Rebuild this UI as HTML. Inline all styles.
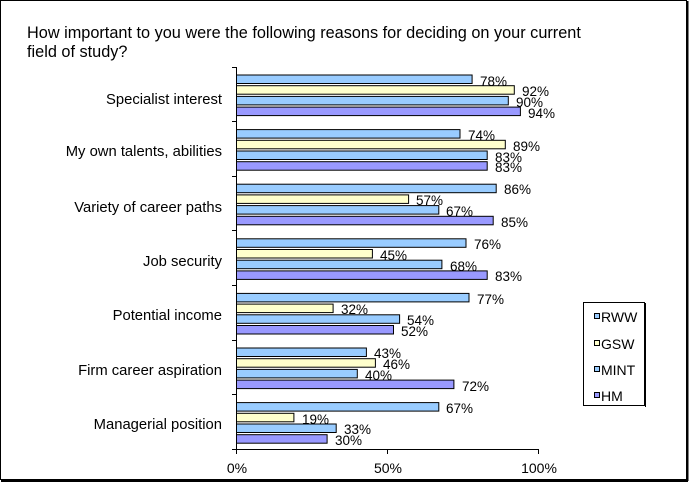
<!DOCTYPE html>
<html><head><meta charset="utf-8"><style>
html,body{margin:0;padding:0;background:#fff}
svg{display:block}
text{font-family:"Liberation Sans",Arial,sans-serif;fill:#000}
</style></head><body>
<svg width="689" height="483" viewBox="0 0 689 483" xmlns="http://www.w3.org/2000/svg">
<rect x="0.5" y="0.5" width="686" height="479" fill="#fff" stroke="#000" stroke-width="1"/>
<line x1="687.5" y1="1" x2="687.5" y2="481" stroke="#000" stroke-width="2"/>
<line x1="1" y1="481" x2="688" y2="481" stroke="#000" stroke-width="2"/>
<text x="27" y="38" font-size="16.3">How important to you were the following reasons for deciding on your current</text>
<text x="27" y="57" font-size="16.3">field of study?</text>
<g font-size="14.8" text-anchor="end">
<text x="222" y="104">Specialist interest</text>
<text x="222" y="156">My own talents, abilities</text>
<text x="222" y="212">Variety of career paths</text>
<text x="222" y="266">Job security</text>
<text x="222" y="320">Potential income</text>
<text x="222" y="375">Firm career  aspiration</text>
<text x="222" y="429">Managerial  position</text>
</g>
<g stroke="#000" stroke-width="1">
<line x1="236.5" y1="67" x2="236.5" y2="449"/>
<line x1="236" y1="449.5" x2="538" y2="449.5"/>
<line x1="232" y1="67.5" x2="236" y2="67.5"/>
<line x1="232" y1="121.5" x2="236" y2="121.5"/>
<line x1="232" y1="176.5" x2="236" y2="176.5"/>
<line x1="232" y1="230.5" x2="236" y2="230.5"/>
<line x1="232" y1="285.5" x2="236" y2="285.5"/>
<line x1="232" y1="340.5" x2="236" y2="340.5"/>
<line x1="232" y1="394.5" x2="236" y2="394.5"/>
<line x1="232" y1="449.5" x2="236" y2="449.5"/>
<line x1="236.5" y1="449" x2="236.5" y2="454"/>
<line x1="387.5" y1="449" x2="387.5" y2="454"/>
<line x1="538.5" y1="449" x2="538.5" y2="454"/>
</g>
<g font-size="14" text-anchor="middle">
<text x="237" y="473">0%</text>
<text x="388" y="473">50%</text>
<text x="539" y="473">100%</text>
</g>
<g stroke="#000" stroke-width="1">
<rect x="236.5" y="75" width="235.6" height="8.5" fill="#99ccff"/>
<rect x="236.5" y="85.7" width="277.8" height="8.5" fill="#ffffcc"/>
<rect x="236.5" y="96.4" width="271.8" height="8.5" fill="#99ccff"/>
<rect x="236.5" y="107.1" width="283.9" height="8.5" fill="#9999ff"/>

<rect x="236.5" y="129.6" width="223.5" height="8.5" fill="#99ccff"/>
<rect x="236.5" y="140.3" width="268.8" height="8.5" fill="#ffffcc"/>
<rect x="236.5" y="151" width="250.7" height="8.5" fill="#99ccff"/>
<rect x="236.5" y="161.7" width="250.7" height="8.5" fill="#9999ff"/>

<rect x="236.5" y="184.2" width="259.7" height="8.5" fill="#99ccff"/>
<rect x="236.5" y="194.9" width="172.1" height="8.5" fill="#ffffcc"/>
<rect x="236.5" y="205.6" width="202.3" height="8.5" fill="#99ccff"/>
<rect x="236.5" y="216.3" width="256.7" height="8.5" fill="#9999ff"/>

<rect x="236.5" y="238.8" width="229.5" height="8.5" fill="#99ccff"/>
<rect x="236.5" y="249.5" width="135.9" height="8.5" fill="#ffffcc"/>
<rect x="236.5" y="260.2" width="205.4" height="8.5" fill="#99ccff"/>
<rect x="236.5" y="270.9" width="250.7" height="8.5" fill="#9999ff"/>

<rect x="236.5" y="293.4" width="232.5" height="8.5" fill="#99ccff"/>
<rect x="236.5" y="304.1" width="96.6" height="8.5" fill="#ffffcc"/>
<rect x="236.5" y="314.8" width="163.1" height="8.5" fill="#99ccff"/>
<rect x="236.5" y="325.5" width="157" height="8.5" fill="#9999ff"/>

<rect x="236.5" y="348" width="129.9" height="8.5" fill="#99ccff"/>
<rect x="236.5" y="358.7" width="138.9" height="8.5" fill="#ffffcc"/>
<rect x="236.5" y="369.4" width="120.8" height="8.5" fill="#99ccff"/>
<rect x="236.5" y="380.1" width="217.4" height="8.5" fill="#9999ff"/>

<rect x="236.5" y="402.6" width="202.3" height="8.5" fill="#99ccff"/>
<rect x="236.5" y="413.3" width="57.4" height="8.5" fill="#ffffcc"/>
<rect x="236.5" y="424" width="99.7" height="8.5" fill="#99ccff"/>
<rect x="236.5" y="434.7" width="90.6" height="8.5" fill="#9999ff"/>
</g>
<g font-size="13.5">
<text x="480" y="86">78%</text>
<text x="522" y="96">92%</text>
<text x="516" y="107">90%</text>
<text x="528" y="118">94%</text>

<text x="468" y="140">74%</text>
<text x="513" y="151">89%</text>
<text x="495" y="162">83%</text>
<text x="495" y="172">83%</text>

<text x="504" y="194">86%</text>
<text x="416" y="205">57%</text>
<text x="446" y="216">67%</text>
<text x="501" y="227">85%</text>

<text x="474" y="249">76%</text>
<text x="380" y="260">45%</text>
<text x="450" y="271">68%</text>
<text x="495" y="281">83%</text>

<text x="477" y="304">77%</text>
<text x="341" y="314">32%</text>
<text x="407" y="325">54%</text>
<text x="401" y="336">52%</text>

<text x="374" y="358">43%</text>
<text x="383" y="369">46%</text>
<text x="365" y="380">40%</text>
<text x="462" y="391">72%</text>

<text x="446" y="413">67%</text>
<text x="302" y="424">19%</text>
<text x="344" y="434">33%</text>
<text x="335" y="445">30%</text>
</g>
<rect x="583.5" y="302.5" width="61" height="103" fill="#fff" stroke="#000" stroke-width="1"/>
<line x1="645.5" y1="303" x2="645.5" y2="407" stroke="#000" stroke-width="1"/>
<g stroke="#000" stroke-width="1">
<rect x="594.5" y="313.5" width="5" height="5" fill="#99ccff"/>
<rect x="594.5" y="340.5" width="5" height="5" fill="#ffffcc"/>
<rect x="594.5" y="366.5" width="5" height="5" fill="#99ccff"/>
<rect x="594.5" y="392.5" width="5" height="5" fill="#9999ff"/>
</g>
<g font-size="14">
<text x="601" y="322">RWW</text>
<text x="601" y="349">GSW</text>
<text x="601" y="375">MINT</text>
<text x="601" y="401">HM</text>
</g>
</svg>
</body></html>
